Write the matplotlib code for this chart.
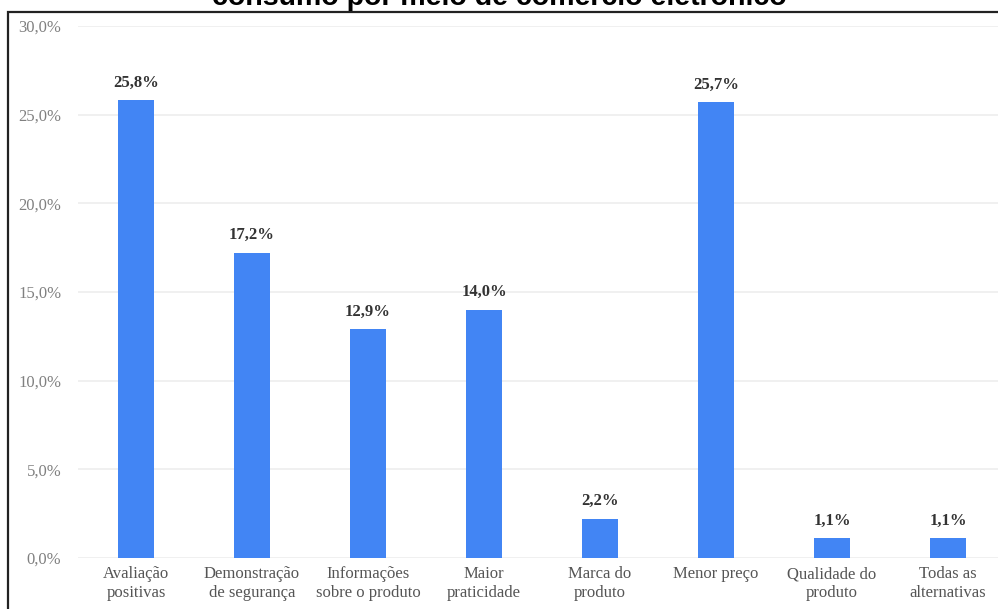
import matplotlib.pyplot as plt
from matplotlib.patches import Rectangle
from matplotlib.ticker import FuncFormatter

categorias = ["Avaliação\npositivas", "Demonstração\nde segurança", "Informações\nsobre o produto",
              "Maior\npraticidade", "Marca do\nproduto", "Menor preço", "Qualidade do\nproduto",
              "Todas as\nalternativas"]
percentuais = [25.8, 17.2, 12.9, 14.0, 2.2, 25.7, 1.1, 1.1]
titulo = "consumo por meio de comércio eletrônico"

W, H = 998, 609
fig = plt.figure(figsize=(W / 100, H / 100), dpi=100)
fig.patch.set_facecolor("white")

# moldura preta em volta do gráfico
fig.add_artist(Rectangle((8 / W, -0.1), 1.2, 1 - 12 / H + 0.1, transform=fig.transFigure,
                         fill=False, edgecolor="#222222", linewidth=1.6))

# título (parte de cima fica fora da área da figura)
fig.text(0.5, 1 - 5 / H, titulo, ha="center", va="baseline", fontsize=20.5,
         fontweight="bold", family="Liberation Sans", color="black")

ax = fig.add_axes([78 / W, 51 / H, 928 / W, 532 / H])
x = list(range(len(categorias)))
ax.bar(x, percentuais, width=0.31, color="#4285F4", zorder=3)

for xi, v in zip(x, percentuais):
    ax.annotate(f"{v:.1f}%".replace(".", ","), (xi, v), xytext=(0, 7), textcoords="offset points",
                ha="center", va="bottom", fontsize=12, fontweight="bold",
                family="Liberation Serif", color="#333333")

ax.set_xlim(-0.5, len(categorias) - 0.5)
ax.set_ylim(0, 30)
ax.set_yticks([0, 5, 10, 15, 20, 25, 30])
ax.yaxis.set_major_formatter(FuncFormatter(lambda v, p: f"{v:.1f}%".replace(".", ",")))
ax.set_xticks(x)
ax.set_xticklabels(categorias, family="Liberation Serif", fontsize=12, color="#555555")
for lbl in ax.get_yticklabels():
    lbl.set_family("Liberation Serif")
    lbl.set_fontsize(12)
    lbl.set_color("#808080")
ax.tick_params(axis="both", length=0)
ax.tick_params(axis="y", pad=12)
ax.tick_params(axis="x", pad=6)
ax.grid(axis="y", color="#eeeeee", linewidth=1.2, zorder=0)
for s in ax.spines.values():
    s.set_visible(False)

fig.savefig("out.png", dpi=100)
